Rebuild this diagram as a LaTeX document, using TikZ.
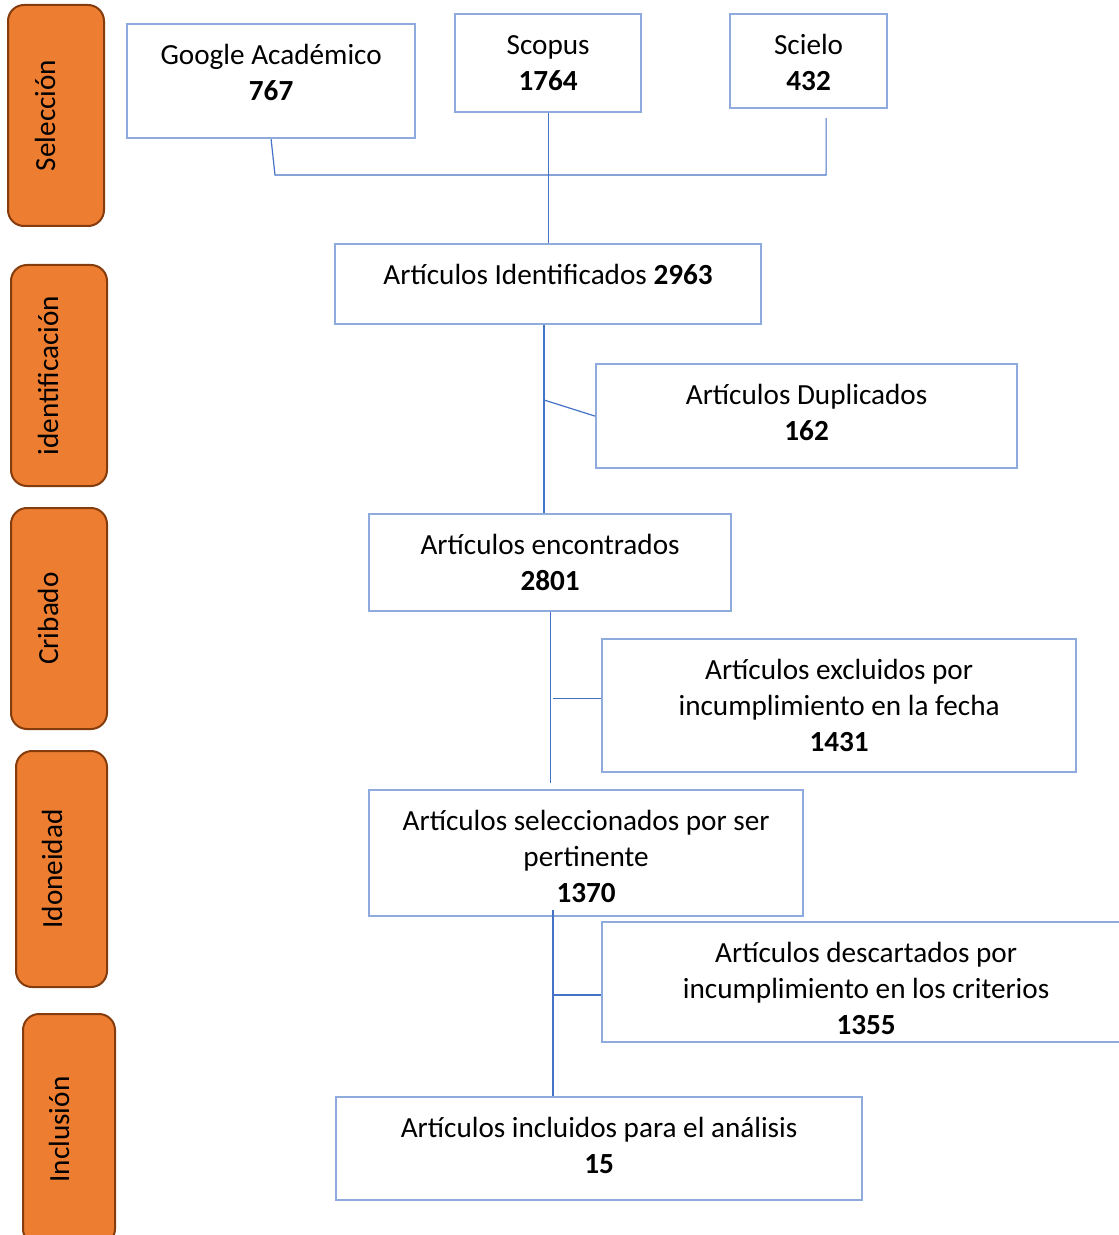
\documentclass[tikz,border=0pt]{standalone}
\usepackage{fontspec}
\setmainfont{Carlito}
\usepackage{tikz}
\usetikzlibrary{positioning,calc}

\definecolor{boxline}{HTML}{8FAADC}
\definecolor{wire}{HTML}{4472C4}
\definecolor{stagefill}{HTML}{ED7D31}
\definecolor{stageline}{HTML}{843C0C}

\begin{document}
\begin{tikzpicture}
    [x=0.5pt,y=-0.5pt,
     doc/.style={rectangle,draw=boxline,line width=1.1pt,inner sep=0pt,anchor=north west,
       align=flush center,text height=20pt,font=\fontsize{14.6}{18}\selectfont},
     stage/.style={rectangle,rounded corners=8pt,draw=stageline,fill=stagefill,line width=1pt,
       inner sep=0pt,rotate=90,font=\fontsize{14.6}{18}\selectfont},
     link/.style={draw=wire,line width=0.6pt}]

    \useasboundingbox (0,0) rectangle (1118,1235);

    \node[stage,minimum width=110.5pt,text height=23.5pt,text depth=24.5pt] (seleccion) at (56,115.5) {Selección};
    \node[stage,minimum width=110.5pt,text height=23.5pt,text depth=24.5pt] (identificacion) at (59,375.5) {identificación};
    \node[stage,minimum width=110.5pt,text height=23.5pt,text depth=24.5pt] (cribado) at (59,618.5) {Cribado};
    \node[stage,minimum width=118pt,text height=23pt,text depth=22.5pt] (idoneidad) at (61.5,869) {Idoneidad};
    \node[stage,minimum width=115.5pt,text height=23pt,text depth=23pt] (inclusion) at (69,1129.5) {Inclusión};

    \node[doc,text width=144pt,text depth=37pt] (google) at (126,23) {Google Académico\\\textbf{767}};
    \node[doc,text width=93pt,text depth=29pt] (scopus) at (454,13) {Scopus\\\textbf{1764}};
    \node[doc,text width=78.5pt,text depth=27pt] (scielo) at (729,13) {Scielo\\\textbf{432}};

    \node[doc,text width=213pt,text depth=20pt] (identificados) at (334,243) {Artículos Identificados \textbf{2963}};
    \node[doc,text width=210.5pt,text depth=32pt] (duplicados) at (595,363) {Artículos Duplicados\\\textbf{162}};
    \node[doc,text width=181pt,text depth=28.5pt] (encontrados) at (368,513) {Artículos encontrados\\\textbf{2801}};
    \node[doc,text width=237pt,text depth=46.5pt] (excluidos) at (601,638)
      {Artículos excluidos por\\incumplimiento en la fecha\\\textbf{1431}};
    \node[doc,text width=217pt,text depth=43pt] (seleccionados) at (368,789)
      {Artículos seleccionados por ser\\pertinente\\\textbf{1370}};
    \node[doc,text width=264pt,text depth=40pt] (descartados) at (601,921)
      {Artículos descartados por\\incumplimiento en los criterios\\\textbf{1355}};
    \node[doc,text width=263pt,text depth=31.5pt] (incluidos) at (335,1096)
      {Artículos incluidos para el análisis\\\textbf{15}};

    \coordinate (srcjoin) at (275,175);
    \coordinate (scieloend) at ($(scielo.south)+(17.5,9)$);
    \coordinate (dupfork) at (544,400);
    \coordinate (selfork) at (553,995);

    \draw[link] (google.south) -- (srcjoin) -- (srcjoin -| scieloend) -- (scieloend);
    \draw[link] (scopus.south) -- (identificados.north);
    \draw[link] (dupfork |- identificados.south) -- (dupfork |- encontrados.north);
    \draw[link] (dupfork) -- (duplicados.west);
    \draw[link] (encontrados.south) -- ($(encontrados.south |- seleccionados.north)+(0,-6)$);
    \draw[link] ($(excluidos.west)+(0,-7.5)$) -- ($(excluidos.west -| encontrados.south)+(3,-7.5)$);
    \draw[link] ($(selfork |- seleccionados.south)+(0,-7)$) -- (selfork |- incluidos.north);
    \draw[link] (selfork) -- (selfork -| descartados.west);
\end{tikzpicture}
\end{document}
